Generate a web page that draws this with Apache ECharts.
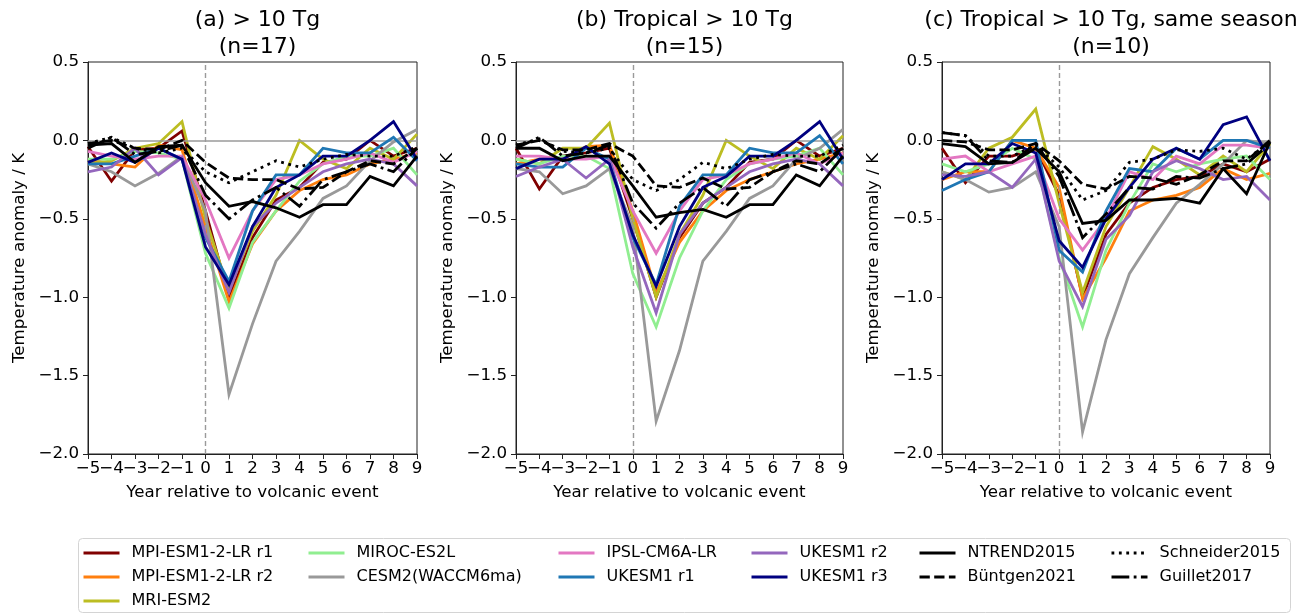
<!DOCTYPE html>
<html>
<head>
<meta charset="utf-8">
<script src="https://cdn.jsdelivr.net/npm/echarts@6/dist/echarts.min.js"></script>
<style>
  html, body { margin: 0; padding: 0; background: #fff; }
  #chart { width: 1309px; height: 615px; }
</style>
</head>
<body>
<div id="chart"></div>
<script>
  const years = [-5, -4, -3, -2, -1, 0, 1, 2, 3, 4, 5, 6, 7, 8, 9];
  const panelTitles = ["(a) > 10 Tg\n(n=17)", "(b) Tropical > 10 Tg\n(n=15)", "(c) Tropical > 10 Tg, same season\n(n=10)"];
  const seriesNames = ["MPI-ESM1-2-LR r1", "MPI-ESM1-2-LR r2", "MRI-ESM2", "MIROC-ES2L", "CESM2(WACCM6ma)",
    "IPSL-CM6A-LR", "UKESM1 r1", "UKESM1 r2", "UKESM1 r3", "NTREND2015", "Büntgen2021", "Schneider2015", "Guillet2017"];

  // (a) > 10 Tg
  const mpiR1A = [-0.04, -0.26, -0.06, -0.05, 0.06, -0.45, -1.00, -0.62, -0.38, -0.30, -0.14, -0.12, 0.00, -0.10, -0.05];
  const mpiR2A = [-0.12, -0.15, -0.17, -0.03, -0.06, -0.55, -1.03, -0.66, -0.45, -0.32, -0.25, -0.22, -0.15, -0.12, -0.08];
  const mriA = [-0.15, -0.13, -0.05, -0.02, 0.12, -0.50, -0.96, -0.58, -0.35, 0.00, -0.12, -0.18, -0.05, -0.12, 0.04];
  const mirocA = [-0.12, -0.12, -0.07, -0.08, -0.12, -0.72, -1.07, -0.65, -0.45, -0.26, -0.15, -0.10, -0.10, -0.05, -0.22];
  const cesmA = [-0.15, -0.20, -0.29, -0.21, -0.10, -0.45, -1.62, -1.17, -0.77, -0.58, -0.37, -0.29, -0.13, -0.01, 0.07];
  const ipslA = [-0.07, -0.10, -0.12, -0.10, -0.10, -0.38, -0.75, -0.45, -0.25, -0.22, -0.15, -0.12, -0.08, -0.14, -0.07];
  const uk1A = [-0.15, -0.15, -0.10, -0.05, -0.12, -0.62, -0.90, -0.45, -0.22, -0.22, -0.05, -0.08, -0.08, 0.02, -0.13];
  const uk2A = [-0.20, -0.17, -0.05, -0.22, -0.11, -0.60, -0.97, -0.55, -0.40, -0.30, -0.20, -0.15, -0.12, -0.15, -0.29];
  const uk3A = [-0.14, -0.08, -0.14, -0.05, -0.12, -0.68, -0.92, -0.55, -0.30, -0.22, -0.10, -0.10, 0.00, 0.12, -0.12];
  const ntrendA = [-0.03, -0.02, -0.14, -0.04, -0.03, -0.27, -0.42, -0.39, -0.43, -0.49, -0.41, -0.41, -0.23, -0.29, -0.10];
  const buntgenA = [-0.02, 0.00, -0.05, -0.06, 0.00, -0.14, -0.24, -0.25, -0.25, -0.31, -0.30, -0.20, -0.13, -0.15, -0.05];
  const schneiderA = [-0.02, 0.02, -0.05, -0.08, -0.05, -0.20, -0.27, -0.20, -0.13, -0.17, -0.12, -0.09, -0.10, -0.10, -0.04];
  const guilletA = [-0.05, 0.02, -0.09, -0.07, -0.03, -0.35, -0.50, -0.38, -0.30, -0.42, -0.25, -0.20, -0.15, -0.20, -0.05];

  // (b) Tropical > 10 Tg
  const mpiR1B = [-0.05, -0.31, -0.10, -0.08, -0.05, -0.50, -1.00, -0.62, -0.40, -0.30, -0.14, -0.12, 0.00, -0.10, -0.05];
  const mpiR2B = [-0.15, -0.12, -0.12, -0.04, -0.03, -0.45, -0.97, -0.65, -0.45, -0.32, -0.25, -0.20, -0.15, -0.12, -0.08];
  const mriB = [-0.12, -0.15, -0.05, -0.05, 0.11, -0.50, -1.00, -0.60, -0.35, 0.00, -0.10, -0.18, -0.05, -0.12, 0.03];
  const mirocB = [-0.12, -0.15, -0.10, -0.10, -0.18, -0.85, -1.19, -0.75, -0.45, -0.25, -0.15, -0.12, -0.10, -0.05, -0.22];
  const cesmB = [-0.18, -0.20, -0.34, -0.29, -0.18, -0.55, -1.79, -1.34, -0.77, -0.58, -0.37, -0.29, -0.12, -0.05, 0.07];
  const ipslB = [-0.10, -0.10, -0.12, -0.12, -0.10, -0.45, -0.72, -0.45, -0.25, -0.22, -0.15, -0.12, -0.08, -0.15, -0.08];
  const uk1B = [-0.15, -0.17, -0.17, -0.05, -0.12, -0.62, -0.92, -0.42, -0.22, -0.22, -0.05, -0.08, -0.08, 0.03, -0.15];
  const uk2B = [-0.23, -0.17, -0.12, -0.24, -0.12, -0.68, -1.10, -0.60, -0.40, -0.30, -0.20, -0.15, -0.12, -0.15, -0.29];
  const uk3B = [-0.18, -0.12, -0.12, -0.04, -0.15, -0.60, -0.93, -0.55, -0.30, -0.23, -0.10, -0.10, 0.00, 0.12, -0.12];
  const ntrendB = [-0.05, -0.05, -0.13, -0.10, -0.10, -0.29, -0.49, -0.46, -0.44, -0.49, -0.41, -0.41, -0.22, -0.29, -0.10];
  const buntgenB = [-0.03, 0.00, -0.06, -0.06, -0.02, -0.10, -0.29, -0.30, -0.24, -0.31, -0.30, -0.20, -0.13, -0.15, -0.05];
  const schneiderB = [-0.03, 0.01, -0.07, -0.08, -0.05, -0.25, -0.32, -0.25, -0.14, -0.18, -0.12, -0.09, -0.10, -0.10, -0.03];
  const guilletB = [-0.05, 0.02, -0.10, -0.08, -0.03, -0.40, -0.56, -0.40, -0.30, -0.42, -0.25, -0.20, -0.15, -0.20, -0.05];

  // (c) Tropical > 10 Tg, same season
  const mpiR1C = [-0.05, -0.27, -0.10, -0.10, -0.05, -0.35, -1.00, -0.60, -0.40, -0.30, -0.25, -0.23, -0.15, -0.20, -0.12];
  const mpiR2C = [-0.25, -0.20, -0.20, 0.00, -0.05, -0.30, -1.01, -0.75, -0.45, -0.38, -0.35, -0.30, -0.18, -0.25, -0.21];
  const mriC = [-0.20, -0.25, -0.05, 0.02, 0.20, -0.40, -0.97, -0.55, -0.30, -0.04, -0.12, -0.22, -0.10, -0.20, -0.02];
  const mirocC = [-0.15, -0.20, -0.15, -0.05, -0.12, -0.75, -1.19, -0.70, -0.40, -0.15, -0.20, -0.15, -0.12, -0.10, -0.25];
  const cesmC = [-0.20, -0.25, -0.33, -0.30, -0.20, -0.55, -1.86, -1.27, -0.85, -0.62, -0.40, -0.28, -0.15, 0.00, -0.02];
  const ipslC = [-0.12, -0.10, -0.20, -0.15, -0.10, -0.50, -0.70, -0.50, -0.20, -0.25, -0.10, -0.15, -0.03, -0.03, -0.05];
  const uk1C = [-0.32, -0.25, -0.20, 0.00, 0.00, -0.70, -0.84, -0.45, -0.18, -0.20, -0.05, -0.12, 0.00, 0.00, -0.05];
  const uk2C = [-0.22, -0.23, -0.20, -0.30, -0.12, -0.77, -1.06, -0.63, -0.48, -0.20, -0.13, -0.18, -0.25, -0.23, -0.38];
  const uk3C = [-0.25, -0.15, -0.15, -0.02, -0.08, -0.64, -0.81, -0.50, -0.30, -0.12, -0.05, -0.12, 0.10, 0.15, -0.13];
  const ntrendC = [-0.02, -0.04, -0.15, -0.14, -0.05, -0.20, -0.53, -0.51, -0.38, -0.38, -0.37, -0.40, -0.18, -0.34, -0.01];
  const buntgenC = [0.00, -0.01, -0.06, -0.06, -0.02, -0.13, -0.28, -0.31, -0.23, -0.24, -0.28, -0.22, -0.13, -0.13, 0.00];
  const schneiderC = [0.05, 0.03, -0.10, -0.10, -0.03, -0.17, -0.38, -0.32, -0.14, -0.12, -0.06, -0.07, -0.05, -0.12, -0.01];
  const guilletC = [0.05, 0.03, -0.13, -0.14, -0.02, -0.23, -0.62, -0.47, -0.30, -0.31, -0.23, -0.24, -0.18, -0.15, -0.02];

  const panels = [
    [mpiR1A, mpiR2A, mriA, mirocA, cesmA, ipslA, uk1A, uk2A, uk3A, ntrendA, buntgenA, schneiderA, guilletA],
    [mpiR1B, mpiR2B, mriB, mirocB, cesmB, ipslB, uk1B, uk2B, uk3B, ntrendB, buntgenB, schneiderB, guilletB],
    [mpiR1C, mpiR2C, mriC, mirocC, cesmC, ipslC, uk1C, uk2C, uk3C, ntrendC, buntgenC, schneiderC, guilletC],
  ];

  // 样式
  const colors = ["#800000", "#ff7f0e", "#bcbd22", "#90ee90", "#999999", "#e377c2", "#1f77b4", "#9467bd", "#000080",
    "#000000", "#000000", "#000000", "#000000"];
  const dashes = ["solid", "solid", "solid", "solid", "solid", "solid", "solid", "solid", "solid",
    "solid", [10.3, 4.4], [2.8, 4.6], [17.8, 4.4, 2.8, 4.4]];

  const font = "DejaVu Sans";
  const gridLefts = [88, 516, 942];
  const gridWidths = [329, 327, 328];

  let chart = echarts.init(document.getElementById("chart"));

  const minus = (v) => (v < 0 ? "\u2212" : "") + Math.abs(v);
  // 类目轴：标签全部显示（数值轴会把挤在一起的 -4 藏掉）
  const yearLabels = years.map(minus);

  let grids = [], xAxes = [], yAxes = [], titles = [], series = [];
  panels.forEach(function(panel, p) {
    grids.push({
      left: gridLefts[p], top: 62, width: gridWidths[p], height: 392,
      show: true, borderColor: "#222", borderWidth: 1, backgroundColor: "transparent",
    });
    titles.push({
      text: panelTitles[p],
      left: gridLefts[p] + gridWidths[p] / 2,
      top: 2,
      textAlign: "center",
      textStyle: { fontFamily: font, fontSize: 22, fontWeight: "normal", color: "#000", lineHeight: 27 },
    });
    xAxes.push({
      type: "category", gridIndex: p, data: yearLabels, boundaryGap: false,
      name: "Year relative to volcanic event", nameLocation: "middle", nameGap: 30,
      nameTextStyle: { fontFamily: font, fontSize: 16.7, color: "#000" },
      axisLine: { onZero: false, lineStyle: { color: "#222", width: 1 } },
      axisTick: { show: true, length: 5, interval: 0, alignWithLabel: true, lineStyle: { color: "#222" } },
      axisLabel: { fontFamily: font, fontSize: 16.7, color: "#000", margin: 6, interval: 0 },
      splitLine: { show: false },
    });
    yAxes.push({
      type: "value", gridIndex: p, min: -2, max: 0.5, interval: 0.5,
      name: "Temperature anomaly / K", nameLocation: "middle", nameGap: 60,
      nameTextStyle: { fontFamily: font, fontSize: 16.7, color: "#000" },
      axisLine: { show: true, onZero: false, lineStyle: { color: "#222", width: 1 } },
      axisTick: { show: true, length: 5, lineStyle: { color: "#222" } },
      axisLabel: {
        fontFamily: font, fontSize: 16.7, color: "#000", margin: 9,
        showMinLabel: true, showMaxLabel: true,
        formatter: (v) => (v < 0 ? "\u2212" : "") + Math.abs(v).toFixed(1),
      },
      splitLine: { show: false },
    });
    // 参考线
    series.push({
      type: "line", xAxisIndex: p, yAxisIndex: p, data: [], silent: true, z: 1,
      markLine: {
        silent: true, symbol: "none", animation: false, label: { show: false },
        data: [
          { yAxis: 0, lineStyle: { color: "#9a9a9a", width: 1.6, type: "solid" } },
          { xAxis: minus(0), lineStyle: { color: "#9a9a9a", width: 1.4, type: [5, 3] } },
        ],
      },
    });
    panel.forEach(function(vals, s) {
      series.push({
        name: seriesNames[s],
        type: "line", xAxisIndex: p, yAxisIndex: p,
        data: vals,
        symbol: "none", silent: true, z: 2 + s,
        lineStyle: { color: colors[s], width: 2.8, type: dashes[s], cap: "butt", join: "miter" },
        itemStyle: { color: colors[s] },
      });
    });
  });

  const legendCols = [
    { left: 82, names: seriesNames.slice(0, 3) },
    { left: 307, names: seriesNames.slice(3, 5) },
    { left: 557, names: seriesNames.slice(5, 7) },
    { left: 750, names: seriesNames.slice(7, 9) },
    { left: 918, names: seriesNames.slice(9, 11) },
    { left: 1110, names: seriesNames.slice(11, 13) },
  ];
  let legends = legendCols.map(function(c) {
    return {
      data: c.names, left: c.left, top: 544, orient: "vertical", padding: 0,
      itemGap: 6, itemWidth: 36, itemHeight: 18, selectedMode: false,
      lineStyle: { width: 3 },
      itemStyle: { color: "transparent", borderColor: "transparent", borderWidth: 0, opacity: 0 },
      textStyle: { fontFamily: font, fontSize: 16, color: "#000", lineHeight: 18, padding: [0, 0, 0, 7] },
    };
  });

  chart.setOption({
    animation: false,
    backgroundColor: "#fff",
    title: titles,
    grid: grids,
    xAxis: xAxes,
    yAxis: yAxes,
    legend: legends,
    graphic: [{
      type: "rect", left: 78, top: 538, z: -1,
      shape: { width: 1212, height: 74, r: 4 },
      style: { fill: "#fff", stroke: "#d4d4d4", lineWidth: 1 },
    }],
    series: series,
  });
</script>
</body>
</html>
